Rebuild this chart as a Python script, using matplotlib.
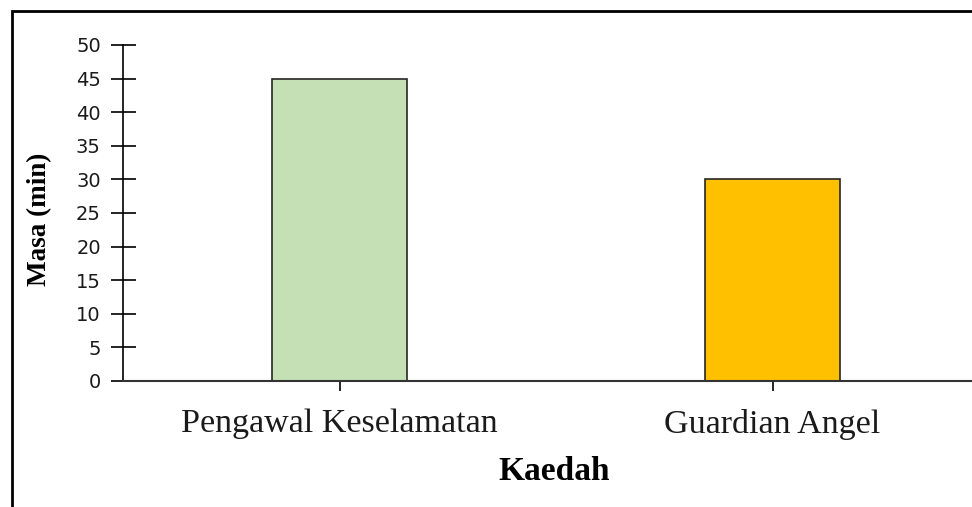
import matplotlib
matplotlib.use('Agg')
from matplotlib import pyplot as plt
from matplotlib.patches import Rectangle

# data
methods = ['Pengawal Keselamatan', 'Guardian Angel']
minutes = [45, 30]
bar_colors = ['#C5E0B4', '#FFC000']
yticks = [0, 5, 10, 15, 20, 25, 30, 35, 40, 45, 50]

fig = plt.figure(figsize=(9.72, 5.07), dpi=100)
ax = fig.add_axes([123 / 972, 1 - 381 / 507, 866 / 972, 336 / 507])

ax.bar(range(len(methods)), minutes, width=0.31, color=bar_colors,
       edgecolor='#262626', linewidth=1.2, zorder=2)

ax.set_xlim(-0.5, 1.5)
ax.set_ylim(0, 50)
ax.set_yticks(yticks)
ax.set_xticks(range(len(methods)))
ax.set_xticklabels(methods, fontsize=24.5, family='Liberation Serif', color='#1a1a1a')
ax.tick_params(axis='y', direction='inout', length=18, width=1.2, labelsize=14,
               labelcolor='#1a1a1a', pad=7)
ax.tick_params(axis='x', direction='inout', length=14, width=1.2, pad=13)
for lbl in ax.get_yticklabels():
    lbl.set_family('DejaVu Sans')

for side in ['top', 'right']:
    ax.spines[side].set_visible(False)
ax.spines['left'].set_linewidth(1.2)
ax.spines['bottom'].set_linewidth(1.5)
ax.spines['bottom'].set_color('#333333')

fig.text(554 / 972, 1 - 472 / 507, 'Kaedah', fontsize=24, fontweight='bold',
         family='Liberation Serif', ha='center', va='center')
fig.text(40 / 972, 1 - 219 / 507, 'Masa (min)', fontsize=19.5, fontweight='bold',
         family='Liberation Serif', ha='center', va='center', rotation=90)

# outer border
fig.patches.append(Rectangle((12 / 972, -0.1), 1.2, 1 - 11 / 507 + 0.1,
                             transform=fig.transFigure, fill=False,
                             edgecolor='black', linewidth=2))

fig.savefig('out.png', dpi=100)
